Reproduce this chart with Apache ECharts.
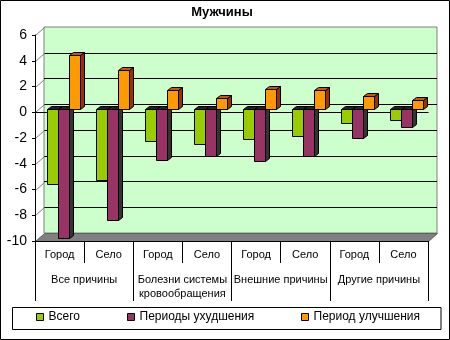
<!DOCTYPE html>
<html><head><meta charset="utf-8">
<script src="https://cdn.jsdelivr.net/npm/echarts@6/dist/echarts.min.js"></script>
<style>html,body{margin:0;padding:0;background:#fff}#c{width:450px;height:340px}</style>
</head><body><div id="c"></div>
<script>
const titleText = 'Мужчины';
const categories = ['Город','Село','Город','Село','Город','Село','Город','Село'];
const groups = ['Все причины','Болезни системы\nкровообращения','Внешние причины','Другие причины'];
const seriesNames = ['Всего','Периоды ухудшения','Период улучшения'];
const totalValues  = [-5.8, -5.5, -2.5, -2.7, -2.3, -2.1, -1.1, -0.8];
const worseValues  = [-10, -8.6, -3.95, -3.6, -4.0, -3.65, -2.2, -1.4];
const betterValues = [4.2, 3.05, 1.5, 0.85, 1.6, 1.5, 1.0, 0.7];
const yTicks = [-10,-8,-6,-4,-2,0,2,4,6];

const FONT = 'Liberation Sans, Arial, sans-serif';
const Y_MIN = -10, Y_MAX = 6, Y_INT = 2;
const WALL_DX = 9, WALL_DY = -8;
const BAR_SHIFT_X = 3.5, BAR_SHIFT_Y = -3, BAR_DX = 4, BAR_DY = -3, BAR_FRAC = 0.22;

function frameItem(params, api){
  const cs = params.coordSys;
  const v = api.value(1);
  const y = Math.round(api.coord([0, v])[1]) + 0.5;
  const x0 = Math.round(cs.x) + 0.5, x1 = Math.round(cs.x + cs.width) + 0.5;
  const ch = [];
  if (v === Y_MIN) {
    ch.push({type:'polygon', shape:{points:[[x0,y],[x1,y],[x1+WALL_DX,y+WALL_DY],[x0+WALL_DX,y+WALL_DY]]},
      style:{fill:'#808080', stroke:'#606060', lineWidth:1}});
  } else {
    ch.push({type:'line', shape:{x1:x0, y1:y, x2:x0+WALL_DX, y2:y+WALL_DY}, style:{stroke:'#808080', lineWidth:1}});
  }
  if (v === 0) {
    ch.push({type:'line', shape:{x1:x0, y1:y, x2:x1, y2:y}, style:{stroke:'#000', lineWidth:1}});
  }
  return {type:'group', children:ch};
}

function makeBar(idx, front, top, side){
  return function(params, api){
    const c = api.value(0), v = api.value(1);
    const p0 = api.coord([c, 0]), p1 = api.coord([c, v]);
    const band = api.size([1, 0])[0];
    const bw = Math.round(band * BAR_FRAC);
    const x = Math.round(p0[0] - 1.5*bw + idx*bw + BAR_SHIFT_X) + 0.5;
    const yT = Math.round(Math.min(p0[1], p1[1]) + BAR_SHIFT_Y) + 0.5;
    const yB = Math.round(Math.max(p0[1], p1[1]) + BAR_SHIFT_Y) + 0.5;
    const st = {stroke:'#000', lineWidth:1, lineJoin:'miter'};
    return {type:'group', children:[
      {type:'polygon', shape:{points:[[x+bw,yT],[x+bw+BAR_DX,yT+BAR_DY],[x+bw+BAR_DX,yB+BAR_DY],[x+bw,yB]]}, style:Object.assign({fill:side}, st)},
      {type:'polygon', shape:{points:[[x,yT],[x+BAR_DX,yT+BAR_DY],[x+bw+BAR_DX,yT+BAR_DY],[x+bw,yT]]}, style:Object.assign({fill:top}, st)},
      {type:'rect', shape:{x:x, y:yT, width:bw, height:yB-yT}, style:Object.assign({fill:front}, st)}
    ]};
  };
}

const barColors = [
  ['#99CC00', '#222222', '#4D6600'],
  ['#993366', '#222222', '#333333'],
  ['#FF9900', '#C65A00', '#993300']
];
const barData = [totalValues, worseValues, betterValues];

const chart = echarts.init(document.getElementById('c'), null, {renderer:'canvas'});
const legendBase = {orient:'horizontal', top:311, padding:0, itemWidth:7, itemHeight:7, icon:'rect',
  itemStyle:{borderColor:'#000', borderWidth:1}, textStyle:{fontSize:12, color:'#000', fontFamily:FONT}};

chart.setOption({
  animation:false,
  backgroundColor:'#fff',
  textStyle:{fontFamily:FONT},
  title:{text:titleText, left:222, textAlign:'center', top:6, padding:0,
    textStyle:{fontSize:13, fontWeight:'bold', color:'#000', fontFamily:FONT}},
  legend:[
    Object.assign({data:[seriesNames[0]], left:36}, legendBase),
    Object.assign({data:[seriesNames[1]], left:127}, legendBase),
    Object.assign({data:[seriesNames[2]], left:301}, legendBase)
  ],
  grid:[
    {left:35, right:22, top:35, bottom:99, show:false},
    {left:35+WALL_DX, right:22-WALL_DX, top:35+WALL_DY, bottom:99-WALL_DY, show:true,
      backgroundColor:'#CCFFCC', borderColor:'#808080', borderWidth:1}
  ],
  xAxis:[
    {gridIndex:0, type:'category', data:categories, position:'bottom',
      axisLine:{show:true, onZero:false, lineStyle:{color:'#000', width:1}},
      axisTick:{show:true, length:22, lineStyle:{color:'#000'}, interval:0},
      axisLabel:{interval:0, margin:8, fontSize:11, color:'#000', fontFamily:FONT},
      splitLine:{show:false}, z:5},
    {gridIndex:0, type:'category', data:groups, position:'bottom',
      axisLine:{show:false, onZero:false},
      axisTick:{show:true, length:60, lineStyle:{color:'#000'}, interval:0},
      axisLabel:{interval:0, margin:32, fontSize:11, lineHeight:14, color:'#000', fontFamily:FONT},
      splitLine:{show:false}, z:5},
    {gridIndex:1, type:'category', data:categories, show:false}
  ],
  yAxis:[
    {gridIndex:0, type:'value', min:Y_MIN, max:Y_MAX, interval:Y_INT,
      axisLine:{show:true, onZero:false, lineStyle:{color:'#000'}},
      axisTick:{show:true, length:3, lineStyle:{color:'#000'}},
      axisLabel:{margin:8, fontSize:14, color:'#000', fontFamily:FONT},
      splitLine:{show:false}, z:5},
    {gridIndex:1, type:'value', min:Y_MIN, max:Y_MAX, interval:Y_INT,
      axisLine:{show:false}, axisTick:{show:false}, axisLabel:{show:false},
      splitLine:{show:true, showMinLine:false, showMaxLine:false, lineStyle:{color:'#000', width:1}}}
  ],
  series:[
    {type:'custom', name:'frame', xAxisIndex:0, yAxisIndex:0, z:1, silent:true,
      data:yTicks.map(v=>[0, v]), encode:{x:0, y:1}, renderItem:frameItem}
  ].concat(seriesNames.map((n, i)=>({
    type:'custom', name:n, xAxisIndex:0, yAxisIndex:0, z:3+i,
    itemStyle:{color:barColors[i][0]},
    data:barData[i].map((v, k)=>[k, v]), encode:{x:0, y:1},
    renderItem:makeBar(i, barColors[i][0], barColors[i][1], barColors[i][2])
  }))),
  graphic:[
    {type:'rect', shape:{x:12.5, y:307.5, width:428.5, height:22}, style:{fill:'none', stroke:'#000', lineWidth:1}, z:10},
    {type:'rect', shape:{x:0.5, y:0.5, width:449, height:339}, style:{fill:'none', stroke:'#000', lineWidth:1}, z:10}
  ]
});
</script></body></html>
